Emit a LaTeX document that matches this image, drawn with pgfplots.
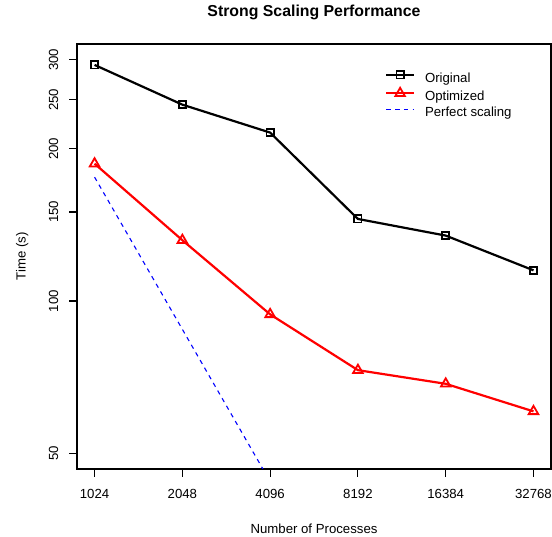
\documentclass[border=0pt]{standalone}
\usepackage{pgfplots}
\pgfplotsset{compat=1.18}
\usepackage{fontspec}
\setmainfont{Liberation Sans}
\newcommand\basefont{\fontsize{13.2bp}{15.8bp}\selectfont}
\begin{document}
\begin{tikzpicture}[x=1bp,y=1bp]
\path[use as bounding box] (0,0) rectangle (552,537);
\begin{axis}[
  at={(77bp,68bp)}, anchor=south west,
  scale only axis, width=474bp, height=425bp,
  xmode=log, log basis x=2, ymode=log,
  xmin=891.44, xmax=37640, ymin=46.54, ymax=322.3,
  xtick={1024,2048,4096,8192,16384,32768},
  xticklabels={1024,2048,4096,8192,16384,32768},
  ytick={50,100,150,200,250,300},
  yticklabels={50,100,150,200,250,300},
  minor xtick={}, minor ytick={},
  tick align=outside, major tick length=7.9bp,
  xtick pos=left, ytick pos=left,
  tick style={black, line width=1.1bp},
  axis line style={line width=1.1bp},
  ticklabel style={font=\basefont},
  xticklabel style={anchor=base},
  yticklabel style={rotate=90, anchor=base},
  xticklabel shift=22.1bp, yticklabel shift=11.1bp,
  /pgf/number format/assume math mode=true,
  legend cell align=left,
  legend image code/.code={\draw[mark repeat=2,mark phase=2,#1] plot coordinates {(0bp,4.7bp) (13.8bp,4.7bp) (27.6bp,4.7bp)};},
  legend style={at={(axis description cs:0.6498,0.936)}, anchor=north west,
    draw=none, fill=none, inner sep=0pt, row sep=0pt, column sep=10bp,
    font=\basefont,
    nodes={inner sep=0pt, text height=10.5bp, text depth=5.8bp}},
]
\addplot[black, line width=2.2bp, mark=square, mark size=3.6bp, mark options={line width=1.8bp}]
  coordinates {(1024,293.0) (2048,244.5) (4096,215.3) (8192,145.3) (16384,134.7) (32768,115.0)};
\addlegendentry{Original}
\addplot[red, line width=2.2bp, mark=triangle, mark size=5.5bp, mark options={line width=1.8bp}]
  coordinates {(1024,186.9) (2048,131.9) (4096,94.1) (8192,73.0) (16384,68.6) (32768,60.5)};
\addlegendentry{Optimized}
\addplot[blue, line width=1.1bp, dash pattern=on 4.4bp off 4.4bp]
  coordinates {(1024,175.8) (2048,87.9) (4096,43.95) (8192,21.98) (16384,10.99) (32768,5.49)};
\addlegendentry{Perfect scaling}
\end{axis}
\node[anchor=base, inner sep=0pt, font=\bfseries\fontsize{15.84bp}{18bp}\selectfont] at (314,520.3) {Strong Scaling Performance};
\node[anchor=base, inner sep=0pt, font=\basefont] at (314,3.7) {Number of Processes};
\node[anchor=base, inner sep=0pt, rotate=90, font=\basefont] at (25.5,280.5) {Time (s)};
\end{tikzpicture}
\end{document}
